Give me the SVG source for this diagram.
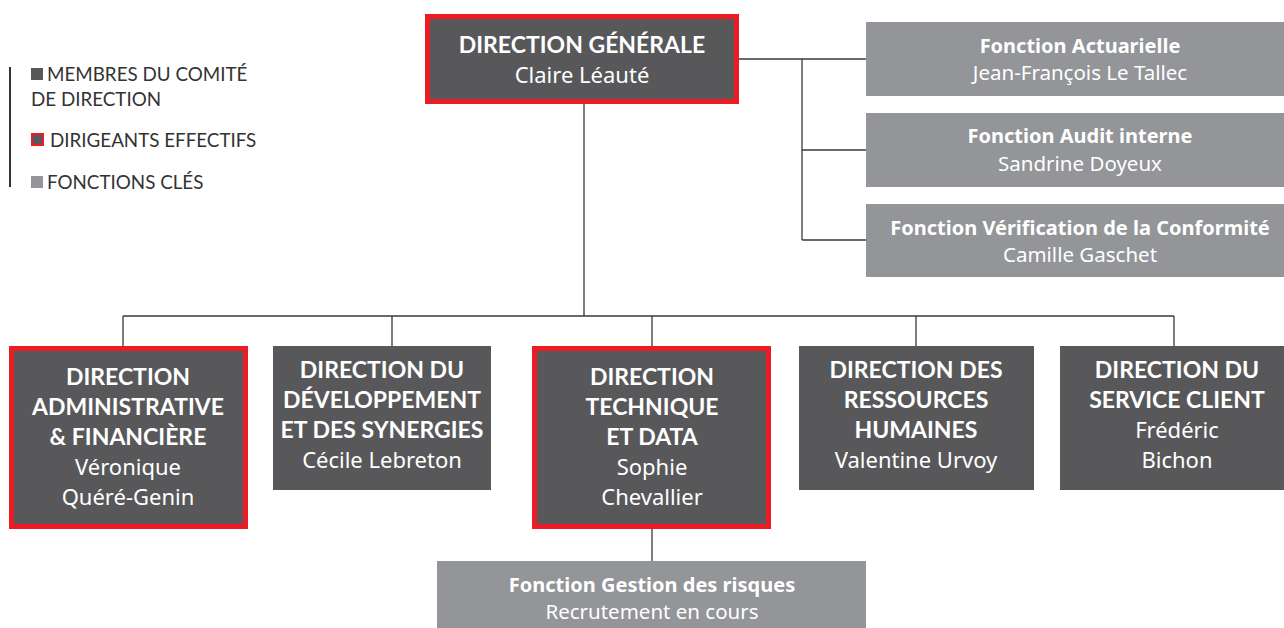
<svg xmlns="http://www.w3.org/2000/svg" width="1284" height="628" viewBox="0 0 1284 628">
<style>
.dk{fill:#58585a}
.lt{fill:#939598}
.red{fill:#58585a;stroke:#ec1c24;stroke-width:5}
text{fill:#fff;text-anchor:middle}
.t{font-family:Lato,"Noto Sans",sans-serif;font-weight:700;font-size:23px}
.n{font-family:"Noto Sans","Open Sans",sans-serif;font-size:22px}
.ft{font-family:"Noto Sans","Open Sans",sans-serif;font-weight:700;font-size:20px}
.fn{font-family:"Noto Sans","Open Sans",sans-serif;font-size:20.5px}
.lg{font-family:Lato,"Noto Sans",sans-serif;fill:#333;font-size:18.8px;text-anchor:start}
.c{stroke:#3a3a3a;stroke-width:1.3;fill:none}
</style>
<g id="legend">
<line x1="10" y1="67" x2="10" y2="187" stroke="#333" stroke-width="2"/>
<rect x="31" y="68" width="12" height="12" class="dk"/>
<text class="lg" x="47" y="81">MEMBRES DU COMITÉ</text>
<text class="lg" x="31" y="106">DE DIRECTION</text>
<rect x="32" y="134" width="11" height="11" fill="#58585a" stroke="#ec1c24" stroke-width="2"/>
<text class="lg" x="50" y="147">DIRIGEANTS EFFECTIFS</text>
<rect x="31" y="176" width="12" height="12" class="lt"/>
<text class="lg" x="47" y="189">FONCTIONS CLÉS</text>
</g>
<g id="connectors">
<path class="c" d="M739 59H866M802 59V240M802 150H866M802 240H866"/>
<path class="c" d="M584 104V316M123 316H1174M123 316V346M392 316V346M652 316V346M916 316V346M1174 316V346"/>
<path class="c" d="M652 529V561"/>
</g>
<g id="dg">
<rect class="red" x="427.5" y="16.5" width="309" height="85"/>
<text class="t" x="582" y="53">DIRECTION GÉNÉRALE</text>
<text class="n" x="582" y="83">Claire Léauté</text>
</g>
<g id="actuarielle">
<rect class="lt" x="866" y="22" width="418" height="74"/>
<text class="ft" x="1080" y="53">Fonction Actuarielle</text>
<text class="fn" x="1080" y="80">Jean-François Le Tallec</text>
</g>
<g id="audit">
<rect class="lt" x="866" y="113" width="418" height="74"/>
<text class="ft" x="1080" y="143">Fonction Audit interne</text>
<text class="fn" x="1080" y="171">Sandrine Doyeux</text>
</g>
<g id="conformite">
<rect class="lt" x="866" y="204" width="418" height="73"/>
<text class="ft" x="1080" y="235">Fonction Vérification de la Conformité</text>
<text class="fn" x="1080" y="262">Camille Gaschet</text>
</g>
<g id="daf">
<rect class="red" x="11.5" y="348.5" width="234" height="178"/>
<text class="t" x="128" y="385">DIRECTION</text>
<text class="t" x="128" y="415">ADMINISTRATIVE</text>
<text class="t" x="128" y="445">&amp; FINANCIÈRE</text>
<text class="n" x="128" y="475">Véronique</text>
<text class="n" x="128" y="505">Quéré-Genin</text>
</g>
<g id="dds">
<rect class="dk" x="273" y="346" width="218" height="144"/>
<text class="t" x="382" y="378">DIRECTION DU</text>
<text class="t" x="382" y="408">DÉVELOPPEMENT</text>
<text class="t" x="382" y="438">ET DES SYNERGIES</text>
<text class="n" x="382" y="468">Cécile Lebreton</text>
</g>
<g id="dtd">
<rect class="red" x="534.5" y="348.5" width="234" height="178"/>
<text class="t" x="652" y="385">DIRECTION</text>
<text class="t" x="652" y="415">TECHNIQUE</text>
<text class="t" x="652" y="445">ET DATA</text>
<text class="n" x="652" y="475">Sophie</text>
<text class="n" x="652" y="505">Chevallier</text>
</g>
<g id="drh">
<rect class="dk" x="799" y="346" width="235" height="144"/>
<text class="t" x="916" y="378">DIRECTION DES</text>
<text class="t" x="916" y="408">RESSOURCES</text>
<text class="t" x="916" y="438">HUMAINES</text>
<text class="n" x="916" y="468">Valentine Urvoy</text>
</g>
<g id="dsc">
<rect class="dk" x="1060" y="346" width="224" height="144"/>
<text class="t" x="1177" y="378">DIRECTION DU</text>
<text class="t" x="1177" y="408">SERVICE CLIENT</text>
<text class="n" x="1177" y="438">Frédéric</text>
<text class="n" x="1177" y="468">Bichon</text>
</g>
<g id="risques">
<rect class="lt" x="437" y="561" width="429" height="67"/>
<text class="ft" x="652" y="592">Fonction Gestion des risques</text>
<text class="fn" x="652" y="619">Recrutement en cours</text>
</g>
</svg>
